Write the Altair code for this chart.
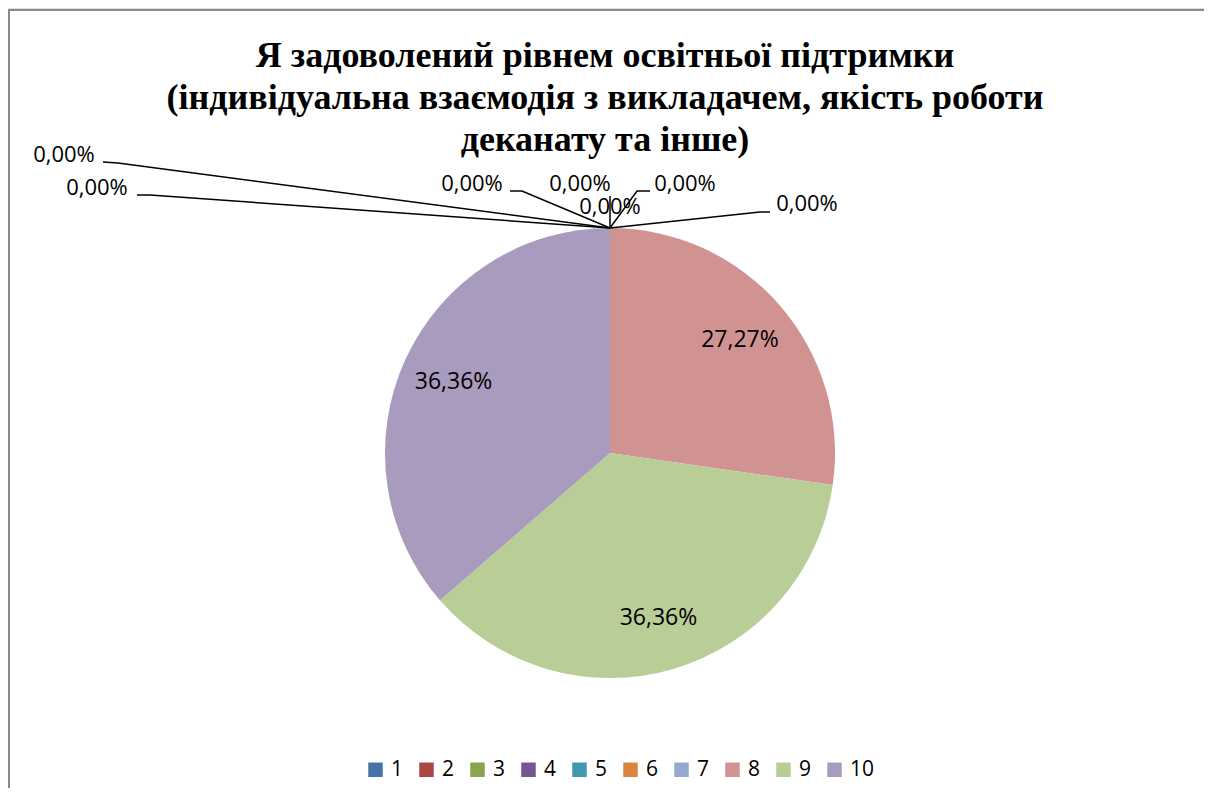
import altair as alt
import pandas as pd

# ---- data ----
categories = ["1", "2", "3", "4", "5", "6", "7", "8", "9", "10"]
percents = [0, 0, 0, 0, 0, 0, 0, 27.27, 36.36, 36.36]
colors = ["#4672A8", "#AA4643", "#89A54E", "#71588F", "#4198AF",
          "#DB843D", "#93A9CF", "#D19392", "#B9CD96", "#A99BBD"]
title_lines = [
    "Я задоволений рівнем освітньої підтримки",
    "(індивідуальна взаємодія з викладачем, якість роботи",
    "деканату та інше)",
]

# ---- layout (pixels, chart coordinates) ----
W, H = 1196, 780
CX, CY, R = 602, 445, 225
OFF = 8
# label centre for zero-valued slices (page coords) and their leader polylines
zero_label_pos = {
    "1": (64, 155), "2": (97, 188), "3": (472, 184), "4": (580, 184),
    "5": (610, 207), "6": (685, 184), "7": (807, 204),
}
leader_paths = {
    "1": [(103, 162), (118, 163), (610, 228)],
    "2": [(137, 195), (150, 195), (610, 228)],
    "3": [(510, 191), (522, 191), (610, 228)],
    "4": [(610, 196), (610, 228)],
    "6": [(650, 191), (637, 191), (610, 228)],
    "7": [(770, 212), (760, 212), (610, 228)],
}
title_y = [67, 109, 151]

LABEL_FONT = "Open Sans"
TITLE_FONT = "Liberation Serif"

df = pd.DataFrame({"cat": categories, "pct": percents, "order": list(range(len(categories)))})
df["label"] = [f"{v:.2f}".replace(".", ",") + "%" for v in percents]

color_enc = alt.Color(
    "cat:N", sort=categories,
    scale=alt.Scale(domain=categories, range=colors),
    legend=alt.Legend(
        orient="none", direction="horizontal", legendX=357, legendY=751,
        title=None, symbolType="square", symbolSize=210, symbolStrokeWidth=0,
        symbolOpacity=1, labelFontSize=21, labelFont=LABEL_FONT, labelColor="#000000",
        columnPadding=12, labelOffset=5, padding=0,
    ),
)

base = alt.Chart(df).encode(
    theta=alt.Theta("pct:Q", stack=True),
    order=alt.Order("order:Q"),
)

pie = base.mark_arc(radius=R, stroke=None).encode(
    color=color_enc, x=alt.value(CX), y=alt.value(CY)
)

pct_text = base.transform_filter("datum.pct > 0").mark_text(
    radius=172, fontSize=23, font=LABEL_FONT, color="black"
).encode(text="label:N", x=alt.value(CX), y=alt.value(CY))

# zero labels
zdf = pd.DataFrame({
    "cat": list(zero_label_pos.keys()),
    "lx": [p[0] - OFF for p in zero_label_pos.values()],
    "ly": [p[1] - OFF for p in zero_label_pos.values()],
})
zdf = zdf.merge(df[["cat", "label"]], on="cat")
zero_text = alt.Chart(zdf).mark_text(
    fontSize=22, font=LABEL_FONT, color="black", baseline="middle", align="center"
).encode(
    x=alt.X("lx:Q", scale=None, axis=None),
    y=alt.Y("ly:Q", scale=None, axis=None),
    text="label:N",
)

rows = []
for k, pts in leader_paths.items():
    for i, (px, py) in enumerate(pts):
        rows.append({"id": k, "seq": i, "px": px - OFF, "py": py - OFF})
ldf = pd.DataFrame(rows)
leaders = alt.Chart(ldf).mark_line(color="black", strokeWidth=1.5).encode(
    x=alt.X("px:Q", scale=None, axis=None),
    y=alt.Y("py:Q", scale=None, axis=None),
    detail="id:N",
    order="seq:Q",
)

tdf = pd.DataFrame({"t": title_lines, "ty": [y - OFF for y in title_y]})
title = alt.Chart(tdf).mark_text(
    font=TITLE_FONT, fontWeight="bold", fontSize=36, color="black",
    align="center", baseline="alphabetic"
).encode(
    x=alt.value(605 - OFF),
    y=alt.Y("ty:Q", scale=None, axis=None),
    text="t:N",
)

border_top = alt.Chart(df).mark_rule(color="#8A8A8A", strokeWidth=2).encode(
    x=alt.value(0), x2=alt.value(W + 20), y=alt.value(2)
)
border_left = alt.Chart(df).mark_rule(color="#8A8A8A", strokeWidth=2).encode(
    x=alt.value(1), y=alt.value(2), y2=alt.value(H + 20)
)

chart = alt.layer(
    border_top, border_left, pie, leaders, pct_text, zero_text, title
).properties(
    width=W, height=H, padding=0, autosize=alt.AutoSizeParams(type="none")
).configure_view(stroke=None).configure(background="white")

chart.save("out.html", embed_options={"renderer": "svg", "actions": False})
